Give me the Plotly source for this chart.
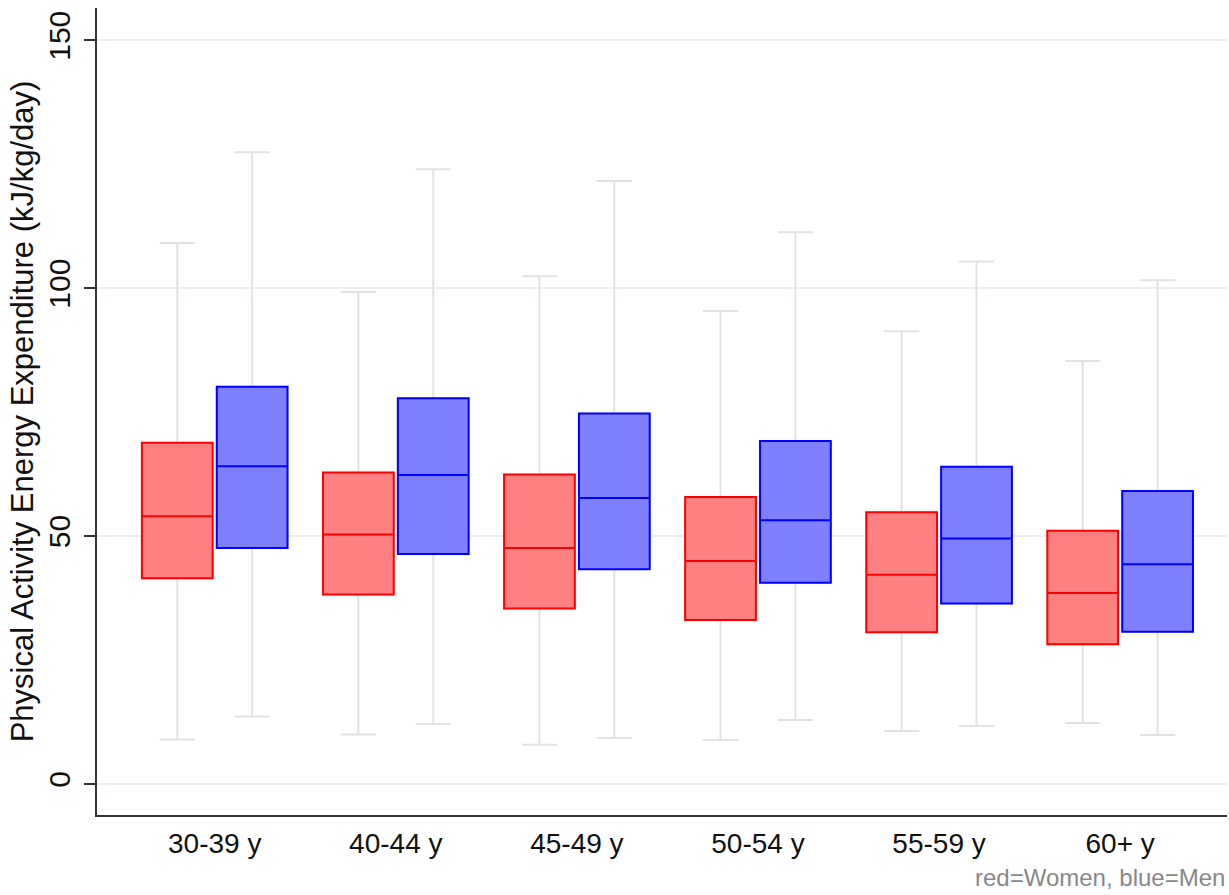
import plotly.graph_objects as go

categories = ["30-39 y", "40-44 y", "45-49 y", "50-54 y", "55-59 y", "60+ y"]

women_low = [9.0, 10.0, 7.9, 8.9, 10.7, 12.3]
women_q1 = [41.5, 38.2, 35.4, 33.1, 30.6, 28.2]
women_med = [54.0, 50.3, 47.6, 45.0, 42.2, 38.5]
women_q3 = [68.8, 62.8, 62.4, 57.9, 54.8, 51.1]
women_high = [109.1, 99.2, 102.4, 95.4, 91.3, 85.3]

men_low = [13.6, 12.1, 9.3, 12.9, 11.7, 9.9]
men_q1 = [47.6, 46.4, 43.3, 40.6, 36.4, 30.7]
men_med = [64.1, 62.3, 57.7, 53.2, 49.5, 44.3]
men_q3 = [80.1, 77.8, 74.7, 69.2, 64.0, 59.1]
men_high = [127.4, 124.0, 121.6, 111.3, 105.4, 101.6]

whisker_color = "#e2e2e2"

fig = go.Figure()

# whiskers (gray) drawn as box traces with full fences
for name, low, q1, med, q3, high in [
    ("women", women_low, women_q1, women_med, women_q3, women_high),
    ("men", men_low, men_q1, men_med, men_q3, men_high),
]:
    fig.add_trace(go.Box(
        x=categories, q1=q1, median=med, q3=q3,
        lowerfence=low, upperfence=high,
        offsetgroup=name, name=name + "_w",
        line=dict(color=whisker_color, width=2),
        fillcolor="rgba(0,0,0,0)",
        whiskerwidth=0.5, boxpoints=False, showlegend=False, hoverinfo="skip",
    ))

# coloured boxes
for name, q1, med, q3, fill, edge in [
    ("women", women_q1, women_med, women_q3, "#ff8080", "#ff0000"),
    ("men", men_q1, men_med, men_q3, "#8080ff", "#0000ff"),
]:
    fig.add_trace(go.Box(
        x=categories, q1=q1, median=med, q3=q3,
        lowerfence=q1, upperfence=q3,
        offsetgroup=name, name=name,
        line=dict(color=edge, width=2),
        fillcolor=fill,
        whiskerwidth=0, boxpoints=False, showlegend=False,
    ))

fig.update_layout(
    width=1229, height=895,
    margin=dict(l=97, r=2, t=8, b=80),
    paper_bgcolor="white", plot_bgcolor="white",
    boxmode="group", boxgap=0.173, boxgroupgap=0.055,
    font=dict(family="Liberation Sans, Arial, sans-serif", color="#111111"),
    showlegend=False,
)

fig.update_xaxes(
    type="category", range=[-0.65, 5.59],
    showline=True, linecolor="#333333", linewidth=2,
    showgrid=False, ticks="", tickfont=dict(size=28, color="#111111"),
    ticklabelstandoff=2,
)
fig.update_yaxes(
    range=[-6.25, 156.5], tickvals=[0, 50, 100, 150],
    showline=True, linecolor="#333333", linewidth=2,
    ticks="outside", ticklen=11, tickwidth=2, tickcolor="#333333",
    showgrid=True, gridcolor="#eaeef5", gridwidth=2, zeroline=False,
    tickangle=-90, tickfont=dict(size=30, color="#111111"),
    ticklabelstandoff=2,
    title=dict(text="Physical Activity Energy Expenditure (kJ/kg/day)",
               font=dict(size=31, color="#111111"), standoff=0),
)

fig.add_annotation(
    text="red=Women, blue=Men", xref="paper", yref="paper",
    x=1.0, y=-0.077, xanchor="right", yanchor="middle", showarrow=False,
    font=dict(size=24, color="#888888"),
)

fig.write_html("out.html")
